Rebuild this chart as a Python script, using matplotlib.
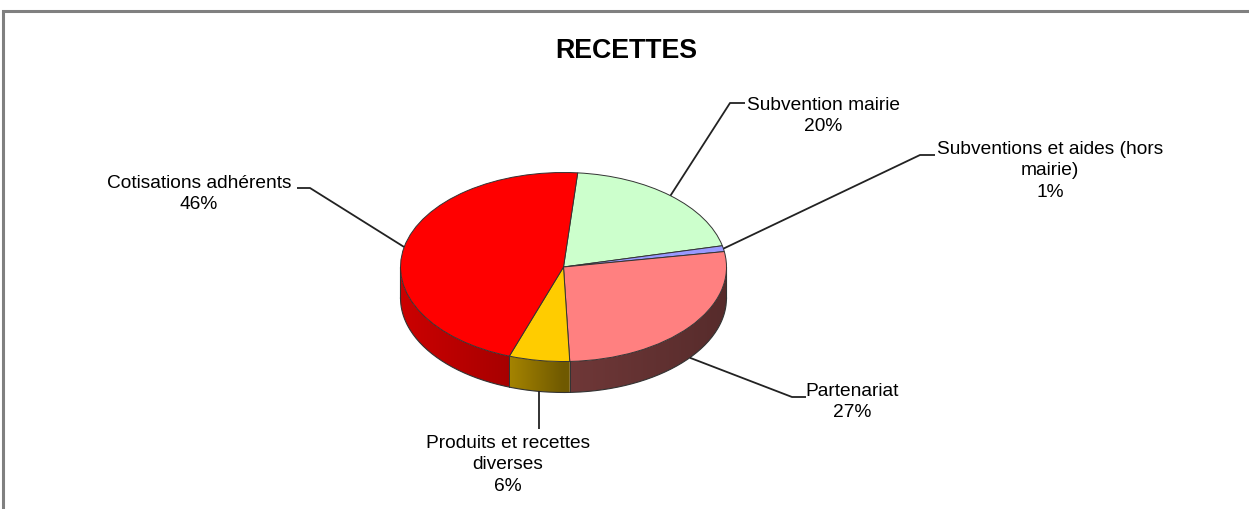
import numpy as np
import matplotlib
matplotlib.use("Agg")
import matplotlib.pyplot as plt
from matplotlib.patches import Polygon, Rectangle
from matplotlib.colors import to_rgb

# ---- data ----
categories = ["Subvention mairie", "Subventions et aides (hors\nmairie)",
              "Partenariat", "Produits et recettes\ndiverses", "Cotisations adhérents"]
values = [20, 1, 27, 6, 46]
pct_labels = ["20%", "1%", "27%", "6%", "46%"]
colors = ["#CCFFCC", "#9999FF", "#FF8080", "#FFCC00", "#FF0000"]
title = "RECETTES"

# ---- layout (pixels) ----
W, H = 1249, 510
cx, cy, rx, ry, depth_px = 563.5, 268, 163, 94.5, 31
start_angle = 85

plt.rcParams['font.family'] = ['Liberation Sans', 'DejaVu Sans']
fig = plt.figure(figsize=(W / 100, H / 100), dpi=100)
ax = fig.add_axes([0, 0, 1, 1])

wedges, _ = ax.pie(values, colors=colors, startangle=start_angle, counterclock=False,
                   radius=1, center=(0, 0),
                   wedgeprops=dict(edgecolor='#333333', linewidth=0.7, zorder=3))
ax.set_aspect('auto')
xlim = (-cx / rx, (W - cx) / rx)
ylim = (-(H - cy) / ry, cy / ry)
depth = depth_px / ry


def px2data(px, py):
    return (px - cx) / rx, (cy - py) / ry


# side shading as function of cos(angle) (lit from the left)
def shade(c):
    return np.interp(c, [-1, -0.35, 0.0, 1.0], [0.8, 0.66, 0.44, 0.34])


total = float(sum(values))
cum = np.concatenate([[0], np.cumsum(values)]) / total * 360.0
edge_col = '#333333'

gx = np.linspace(-1, 1, 400)
for i, col in enumerate(colors):
    th1 = start_angle - cum[i + 1]
    th2 = start_angle - cum[i]
    ts = np.radians(np.linspace(th1, th2, 400))
    a = np.unwrap(ts)
    front = np.sin(a) < 0
    if not front.any():
        continue
    tf = a[front]
    top = np.column_stack([np.cos(tf), np.sin(tf)])
    bot = np.column_stack([np.cos(tf[::-1]), np.sin(tf[::-1]) - depth])
    poly = Polygon(np.vstack([top, bot]), closed=True, facecolor='none',
                   edgecolor='none', transform=ax.transData)
    ax.add_patch(poly)
    base = np.array(to_rgb(col))
    img = (base[None, :] * shade(gx)[:, None])[None, :, :]
    im = ax.imshow(img, extent=(-1, 1, -1 - depth, 0), aspect='auto',
                   interpolation='bilinear', zorder=1, origin='lower')
    im.set_clip_path(poly)

ax.set_xlim(*xlim)
ax.set_ylim(*ylim)
ax.axis('off')

# side outlines
t = np.radians(np.linspace(180, 360, 200))
ax.plot(np.cos(t), np.sin(t) - depth, color=edge_col, lw=0.8, zorder=2)
for xx in (-1, 1):
    ax.plot([xx, xx], [0, -depth], color=edge_col, lw=0.8, zorder=2)
for c in cum:
    th = np.radians(start_angle - c)
    if np.sin(th) < -0.02:
        ax.plot([np.cos(th)] * 2, [np.sin(th), np.sin(th) - depth], color=edge_col, lw=0.7, zorder=2)

# ---- labels with leader lines ----
label_pos = [(823, 116), (1050, 171), (852, 402), (508, 465), (199, 194)]
elbows = [[(730, 104), (745, 104)],
          [(920, 156), (935, 156)],
          [(792, 398), (806, 398)],
          [(None, 430)],
          [(310, 189), (297, 189)]]

for i in range(len(values)):
    m = np.radians(start_angle - (cum[i] + cum[i + 1]) / 2)
    ax_x, ax_y = np.cos(m), np.sin(m)
    if ax_y < 0:
        ax_y -= depth
    xs, ys = [ax_x], [ax_y]
    for (px, py) in elbows[i]:
        dx, dy = px2data(px if px is not None else cx + ax_x * rx, py)
        xs.append(dx)
        ys.append(dy)
    ax.plot(xs, ys, color='#222222', lw=1.3, zorder=4, solid_capstyle='butt')
    tx, ty = label_pos[i]
    fig.text(tx / W, 1 - ty / H, categories[i] + "\n" + pct_labels[i],
             ha='center', va='center', multialignment='center',
             fontsize=13.8, linespacing=1.33, color='black')

fig.text(626 / W, 1 - 51 / H, title, ha='center', va='center',
         fontsize=19.3, fontweight='bold', color='black')

# outer frame (top and left edges visible)
fig.patches.append(Rectangle((3 / W, -0.2), 2.0, (H - 11.5) / H + 0.2,
                             transform=fig.transFigure, fill=False,
                             edgecolor='#808080', linewidth=2.2))

fig.savefig("out.png", dpi=100)
